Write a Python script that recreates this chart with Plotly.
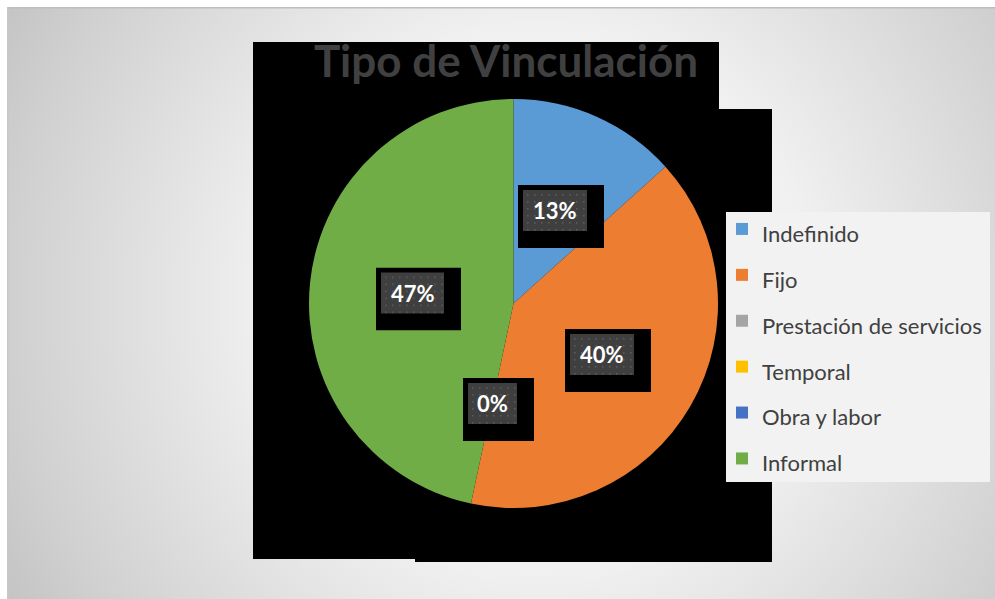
import base64
import plotly.graph_objects as go

# ---- data ----
labels = ["Indefinido", "Fijo", "Prestación de servicios", "Temporal", "Obra y labor", "Informal"]
values = [2, 6, 0, 0, 0, 7]
colors = ["#5B9BD5", "#ED7D31", "#A5A5A5", "#FFC000", "#4472C4", "#70AD47"]
title_text = "Tipo de Vinculación"

# data label placement (pixel centres) for shown labels: index into labels
label_slices = [0, 1, 2, 5]
label_centers = [(555, 210.5), (602, 354.5), (492.5, 403.5), (412.5, 293)]
label_box_widths = [64, 64, 49, 63]

W, H = 995, 599


def px(x):
    return x / W


def py(y):
    return 1 - y / H


def svg_src(svg):
    return "data:image/svg+xml;base64," + base64.b64encode(svg.encode()).decode()


total = sum(values)
pct_text = [f"{round(100 * values[i] / total)}%" for i in label_slices]

fig = go.Figure()
fig.add_trace(go.Pie(
    labels=[f'<span style="font-size:22px">{l}</span>' for l in labels],
    values=values,
    marker=dict(colors=colors, line=dict(width=0)),
    sort=False,
    direction="clockwise",
    rotation=0,
    textinfo="none",
    hoverinfo="label+percent",
    domain=dict(x=[px(309), px(718)], y=[py(508), py(99)]),
))

# background radial gradient
bg_svg = '''<svg xmlns="http://www.w3.org/2000/svg" width="988" height="592" viewBox="0 0 988 592">
<defs><radialGradient id="g" gradientUnits="userSpaceOnUse" cx="533" cy="293" r="610">
<stop offset="0" stop-color="#f9f9f9"/><stop offset="0.45" stop-color="#f0f0f0"/>
<stop offset="0.87" stop-color="#d0d0d0"/><stop offset="1" stop-color="#c4c4c4"/>
</radialGradient></defs>
<rect x="0" y="0" width="988" height="592" fill="url(#g)"/>
<rect x="0" y="0" width="988" height="1.5" fill="#bdbdbd"/>
<rect x="0" y="0" width="1.5" height="592" fill="#c8c8c8"/>
</svg>'''


def box_svg(gw, gh=41, pad_lt=5, pad_rb=17):
    bw, bh = gw + pad_lt + pad_rb, gh + pad_lt + pad_rb
    return bw, bh, f'''<svg xmlns="http://www.w3.org/2000/svg" width="{bw}" height="{bh}" viewBox="0 0 {bw} {bh}">
<defs><pattern id="p" patternUnits="userSpaceOnUse" width="7" height="7">
<rect width="7" height="7" fill="#3f3f3f"/><rect x="2" y="2" width="1.6" height="1.6" fill="#5a5a5a"/>
</pattern></defs>
<rect width="{bw}" height="{bh}" fill="#000000"/>
<rect x="{pad_lt}" y="{pad_lt}" width="{gw}" height="{gh}" fill="url(#p)"/>
</svg>'''


images = [dict(source=svg_src(bg_svg), xref="paper", yref="paper", x=px(7), y=py(7),
               sizex=988 / W, sizey=592 / H, xanchor="left", yanchor="top",
               sizing="stretch", layer="below")]

shapes = []


def rect(x0, y0, x1, y1, color, layer):
    shapes.append(dict(type="rect", xref="paper", yref="paper",
                       x0=px(x0), x1=px(x1), y0=py(y1), y1=py(y0),
                       fillcolor=color, line=dict(width=0), layer=layer))


# black artefact areas behind the chart
rect(253, 42, 719, 559, "#000000", "below")
rect(719, 109, 772, 562, "#000000", "below")
rect(415, 530, 772, 562, "#000000", "below")
# legend panel
rect(726, 212, 990, 482, "#f2f2f2", "below")

annotations = []
for (cx, cy), gw, t in zip(label_centers, label_box_widths, pct_text):
    bw, bh, s = box_svg(gw)
    gx0, gy0 = cx - gw / 2, cy - 41 / 2
    images.append(dict(source=svg_src(s), xref="paper", yref="paper",
                       x=px(gx0 - 5), y=py(gy0 - 5), sizex=bw / W, sizey=bh / H,
                       xanchor="left", yanchor="top", sizing="stretch", layer="above"))
    annotations.append(dict(x=px(cx), y=py(cy), xref="paper", yref="paper",
                            text=f"<b>{t}</b>", showarrow=False,
                            font=dict(family="Lato", size=22, color="#ffffff"),
                            xanchor="center", yanchor="middle"))

fig.update_layout(
    width=W, height=H,
    margin=dict(l=0, r=0, t=0, b=0),
    paper_bgcolor="#ffffff",
    plot_bgcolor="rgba(0,0,0,0)",
    images=images,
    shapes=shapes,
    annotations=annotations,
    title=dict(text=f"<b>{title_text}</b>", x=px(506), y=py(62),
               xanchor="center", yanchor="middle",
               font=dict(family="Lato", size=44, color="#404040")),
    legend=dict(x=px(722), y=py(201), xanchor="left", yanchor="top",
                bgcolor="rgba(0,0,0,0)", borderwidth=0,
                font=dict(family="Lato", size=33, color="#404040")),
    showlegend=True,
)

fig.write_html("out.html", config={"displayModeBar": False},
               post_script="document.body.style.margin='0';")
